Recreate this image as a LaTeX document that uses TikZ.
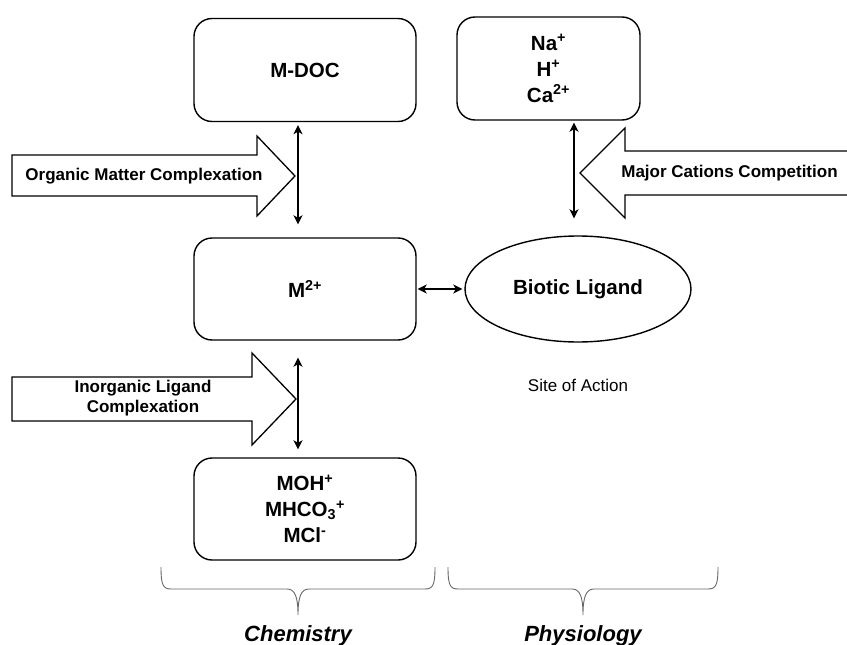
\documentclass[tikz,border=0pt]{standalone}
\usepackage{fontspec}
\setmainfont{Liberation Sans}
\usetikzlibrary{arrows.meta,shapes.geometric}
\tikzset{
	box/.style={draw, line width=1.4pt, rounded corners=18pt, minimum width=222pt, minimum height=103pt, align=center, font=\fontsize{20.5}{26}\selectfont\bfseries},
	bigarrow/.style={draw, line width=1.3pt, fill=white, line join=miter},
	lbl/.style={align=center, font=\fontsize{17}{19.5}\selectfont\bfseries},
	dbl/.style={{Stealth[length=9pt,width=9pt,inset=2.5pt]}-{Stealth[length=9pt,width=9pt,inset=2.5pt]}, line width=1.7pt},
	brace/.style={draw=black!60, line width=0.9pt},
	side/.style={anchor=base, font=\fontsize{22}{26}\selectfont\bfseries\itshape},
}
\begin{document}
\begin{tikzpicture}[x=1pt, y=-1pt]
		\useasboundingbox (0,0) rectangle (847,645);
		% block arrows
		\draw[bigarrow] (12,155) -- (257,155) -- (257,136) -- (295,176) -- (257,216) -- (257,196) -- (12,196) -- cycle;
		\draw[bigarrow] (12,377) -- (252,377) -- (252,353) -- (296,399) -- (252,445) -- (252,421) -- (12,421) -- cycle;
		\draw[bigarrow] (849,151) -- (625,151) -- (625,128) -- (580,173) -- (625,218) -- (625,195) -- (849,195);
		\node[lbl] (organic) at (144,176) {Organic Matter Complexation};
		\node[lbl] (inorganic) at (143,398) {Inorganic Ligand\\Complexation};
		\node[lbl] (cationcomp) at (729.5,173) {Major Cations Competition};
		% boxes
		\node[box] (mdoc) at (305,70) {M-DOC};
		\node[box, minimum width=183pt] (cations) at (548.5,68.5) {Na\textsuperscript{+}\\H\textsuperscript{+}\\Ca\textsuperscript{2+}};
		\node[box, minimum height=102pt] (metal) at (305,289) {M\textsuperscript{2+}};
		\node[box, minimum height=102pt] (complexes) at (305,509) {MOH\textsuperscript{+}\\MHCO\textsubscript{3}\textsuperscript{+}\\MCl\textsuperscript{-}};
		\node[draw, ellipse, line width=1.4pt, minimum width=226pt, minimum height=106pt, inner sep=0pt, font=\fontsize{20.5}{26}\selectfont\bfseries] (ligand) at (578,289) {Biotic Ligand};
		\node[font=\fontsize{17}{20}\selectfont] (site) at (578,385) {Site of Action};
		% exchanges
		\draw[dbl] ([xshift=-7pt,yshift=-3pt]mdoc.south) -- ([xshift=-7pt,yshift=13pt]metal.north);
		\draw[dbl] ([xshift=-7pt,yshift=-17pt]metal.south) -- ([xshift=-7pt,yshift=8pt]complexes.north);
		\draw[dbl] ([xshift=25.5pt,yshift=-2pt]cations.south) -- ([xshift=-4pt,yshift=17pt]ligand.north);
		\draw[dbl] ([xshift=1pt]metal.east) -- ([xshift=-2pt]ligand.west);
		% braces
		\draw[brace] (161,567) .. controls (161,585) and (163,589) .. (171,589) -- (287,589)
			.. controls (295,589) and (298,597) .. (298,615) .. controls (298,597) and (301,589) .. (309,589)
			-- (425,589) .. controls (433,589) and (435,585) .. (435,567);
		\draw[brace] (448,567) .. controls (448,585) and (450,589) .. (458,589) -- (572,589)
			.. controls (580,589) and (583,597) .. (583,615) .. controls (583,597) and (586,589) .. (594,589)
			-- (708,589) .. controls (716,589) and (718,585) .. (718,567);
		\node[side] (chem) at (298,641) {Chemistry};
		\node[side] (phys) at (583,641) {Physiology};
	\end{tikzpicture}
\end{document}
